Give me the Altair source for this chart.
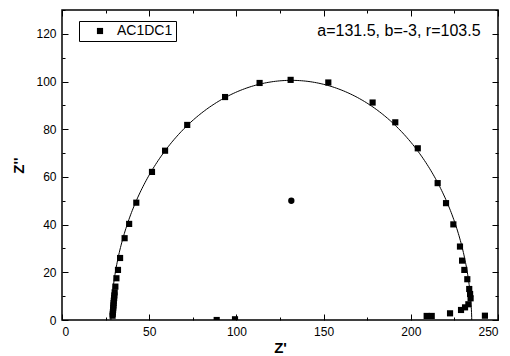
import altair as alt
import numpy as np
import pandas as pd

series_name = "AC1DC1"
z_real = [29.0, 29.1, 29.2, 29.3, 29.4, 29.5, 29.6, 29.7, 29.9, 30.0, 30.2,
          30.6, 31.2, 32.1, 33.3, 35.9, 38.5, 42.6, 51.6, 59.1, 71.8, 93.5,
          113.3, 131.1, 152.7, 178.1, 191.1, 204.0, 215.4, 220.2, 224.4, 228.2,
          229.4, 230.7, 232.4, 233.5, 234.0, 234.3, 233.0, 231.1, 228.8, 222.5,
          212.0, 209.1, 242.5, 88.7, 99.2]
z_imag = [1.8, 2.6, 3.4, 4.3, 5.2, 6.1, 7.1, 8.1, 9.2, 10.3, 11.6,
          14.0, 17.5, 21.0, 26.0, 34.3, 40.3, 49.2, 62.1, 71.0, 81.8, 93.5,
          99.4, 100.7, 99.6, 91.2, 82.9, 72.0, 57.4, 49.0, 40.1, 30.8,
          24.9, 21.0, 17.1, 13.0, 10.9, 9.1, 6.6, 5.3, 4.2, 2.8,
          1.7, 1.7, 1.8, 0.0, 0.3]

center_real = [131.5]
center_imag = [50.0]

fit_a = 131.5
fit_b = -3.0
fit_r = 103.5
annotation_text = ["a=131.5, b=-3, r=103.5"]
annotation_x = [240.0]
annotation_y = [121.0]

x_major = [0, 50, 100, 150, 200, 250]
x_minor = [25, 75, 125, 175, 225]
y_major = [0, 20, 40, 60, 80, 100, 120]
y_minor = [10, 30, 50, 70, 90, 110, 130]
x_domain = [0, 250]
y_domain = [0, 130]

FONT = "Liberation Sans"
MAJ = 6
MIN = 3

pts = pd.DataFrame({"zr": z_real, "zi": z_imag, "series": series_name})
ctr = pd.DataFrame({"zr": center_real, "zi": center_imag})

# fitted circle arc from the fit parameters a, b, r
t0 = np.arcsin(-fit_b / fit_r)
theta = np.linspace(t0, np.pi - t0, 300)
fit = pd.DataFrame({"zr": fit_a + fit_r * np.cos(theta),
                    "zi": fit_b + fit_r * np.sin(theta)})
ann = pd.DataFrame({"x": annotation_x, "y": annotation_y, "t": annotation_text})

xs = alt.Scale(domain=x_domain, nice=False, zero=False)
ys = alt.Scale(domain=y_domain, nice=False, zero=False)


def tick_axis(orient, values, size):
    # inward ticks: axis moved inside the frame by its tick length
    return alt.Axis(orient=orient, values=values, grid=False, domain=False,
                    tickSize=size, offset=-size, tickColor="black", tickWidth=1,
                    labels=False, title=None)


x_axis_main = alt.Axis(
    orient="bottom", values=x_major, grid=False, domain=False,
    tickSize=MAJ, offset=-MAJ, tickColor="black", tickWidth=1,
    labelPadding=6, labelFont=FONT, labelFontSize=12, labelColor="black",
    title="Z'", titleFont=FONT, titleFontSize=15, titleFontWeight="bold",
    titleColor="black", titlePadding=3,
)
y_axis_main = alt.Axis(
    orient="left", values=y_major, grid=False, domain=False,
    tickSize=MAJ, offset=-MAJ, tickColor="black", tickWidth=1,
    labelPadding=6, labelFont=FONT, labelFontSize=12, labelColor="black",
    title="Z''", titleFont=FONT, titleFontSize=15, titleFontWeight="bold",
    titleColor="black", titlePadding=9,
)

points = alt.Chart(pts).mark_point(shape="square", filled=True, size=38, opacity=1, clip=True).encode(
    x=alt.X("zr:Q", scale=xs, axis=x_axis_main),
    y=alt.Y("zi:Q", scale=ys, axis=y_axis_main),
    color=alt.value("black"),
    shape=alt.Shape("series:N", scale=alt.Scale(domain=[series_name], range=["square"]),
                    legend=alt.Legend(
                        title=None, orient="none", legendX=17, legendY=11,
                        fillColor="white",
                        padding=3, symbolOffset=11, symbolSize=38,
                        symbolFillColor="black", symbolStrokeColor="black",
                        labelOffset=10, labelFont=FONT, labelFontSize=14,
                        labelColor="black")),
)

curve = alt.Chart(fit).mark_line(color="black", strokeWidth=1, clip=True).encode(
    x=alt.X("zr:Q", scale=xs, axis=tick_axis("top", x_major, MAJ)),
    y=alt.Y("zi:Q", scale=ys, axis=tick_axis("right", y_major, MAJ)),
)

center = alt.Chart(ctr).mark_circle(color="black", size=40, opacity=1).encode(
    x=alt.X("zr:Q", scale=xs, axis=tick_axis("bottom", x_minor, MIN)),
    y=alt.Y("zi:Q", scale=ys, axis=tick_axis("left", y_minor, MIN)),
)

label = alt.Chart(ann).mark_text(align="right", baseline="middle", font=FONT,
                                 fontSize=16, color="black").encode(
    x=alt.X("x:Q", scale=xs, axis=tick_axis("top", x_minor, MIN)),
    y=alt.Y("y:Q", scale=ys, axis=tick_axis("right", y_minor, MIN)),
    text="t:N",
)

chart = alt.layer(points, curve, center, label).resolve_axis(
    x="independent", y="independent"
).properties(
    width=436, height=310,
    autosize=alt.AutoSizeParams(type="none"),
    padding={"left": 54, "top": 2, "right": 4, "bottom": 34},
).configure_view(
    stroke="black", strokeWidth=1.5
).configure_legend(
    strokeColor="black", strokeWidth=1, cornerRadius=0
)

chart.save("out.html", embed_options={"renderer": "svg", "actions": False})
